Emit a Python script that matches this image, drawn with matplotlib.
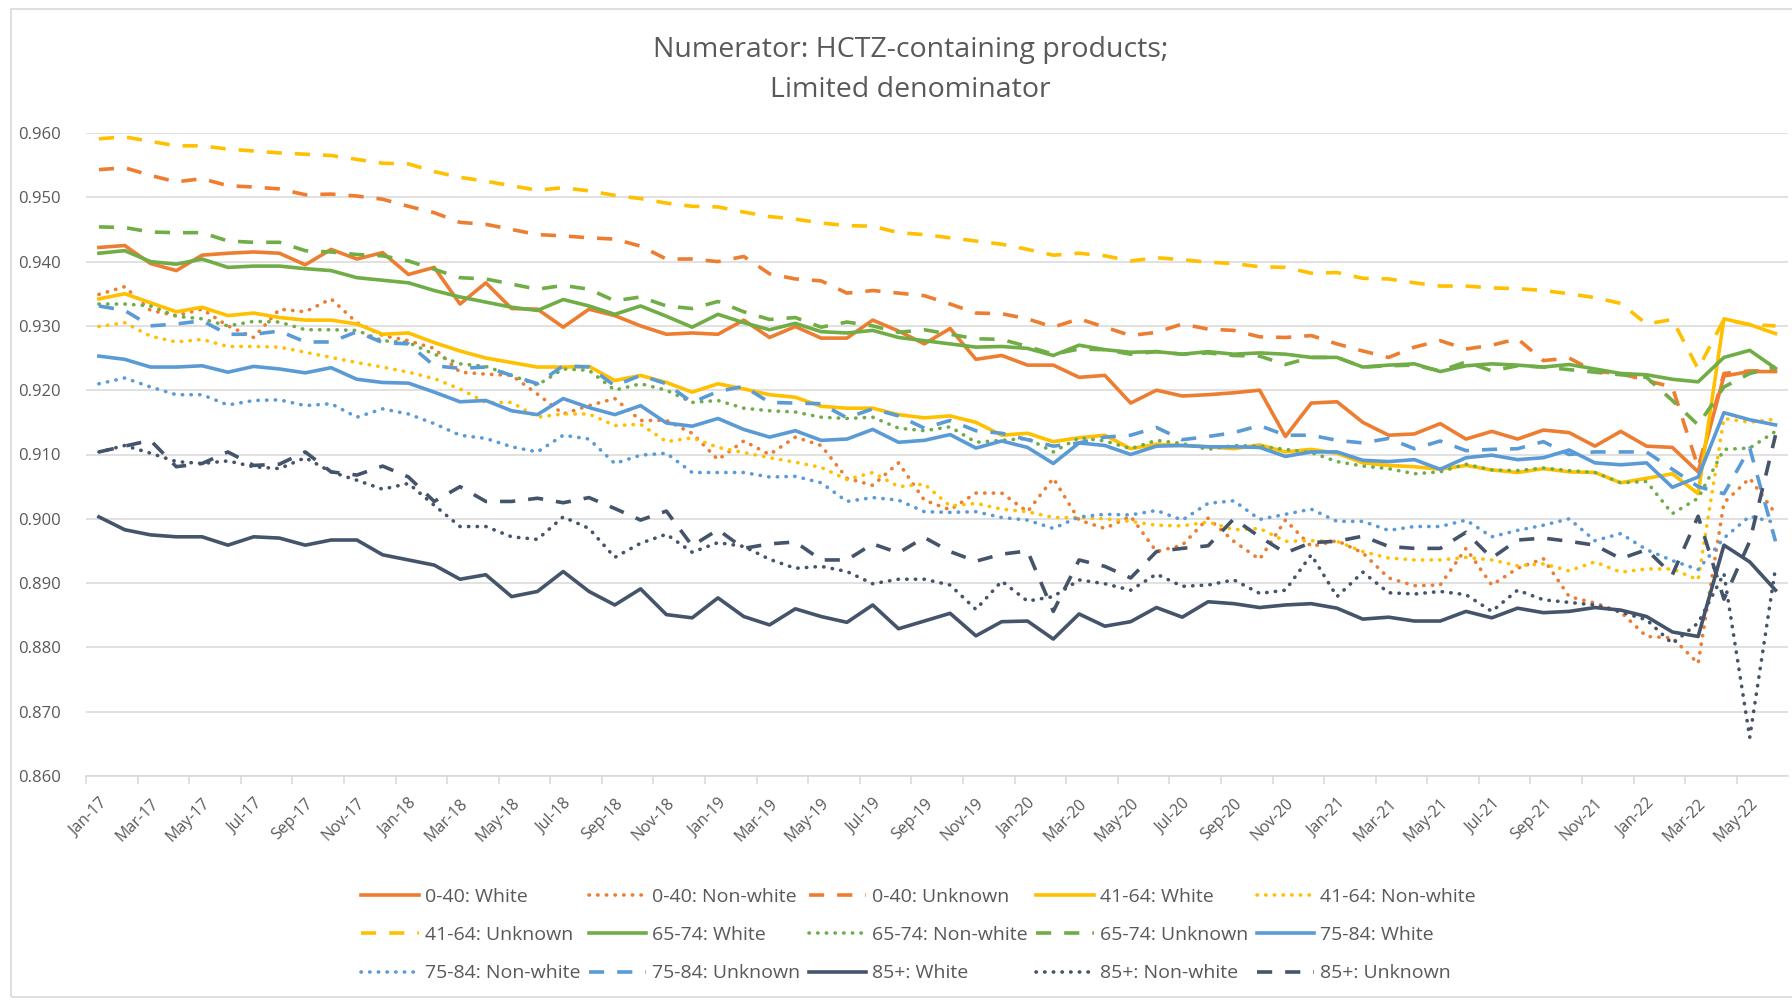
import matplotlib
matplotlib.use('Agg')
import matplotlib.pyplot as plt
from matplotlib.patches import Rectangle
import numpy as np

plt.rcParams['font.family'] = ['Open Sans', 'DejaVu Sans']

# categories: Jan-17 .. Jun-22
month_names = ["Jan", "Feb", "Mar", "Apr", "May", "Jun",
               "Jul", "Aug", "Sep", "Oct", "Nov", "Dec"]
months = [f"{m}-{y}" for y in range(17, 23) for m in month_names][:66]

# 0-40
w_0_40 = [0.9422, 0.9425, 0.9397, 0.9386, 0.9410, 0.9413, 0.9415, 0.9413, 0.9395, 0.9419, 0.9404, 0.9414,
          0.9380, 0.9391, 0.9334, 0.9367, 0.9327, 0.9326, 0.9298, 0.9326, 0.9316, 0.9300, 0.9287, 0.9289,
          0.9287, 0.9309, 0.9282, 0.9299, 0.9281, 0.9281, 0.9309, 0.9292, 0.9272, 0.9296, 0.9248, 0.9254,
          0.9239, 0.9239, 0.9220, 0.9223, 0.9180, 0.9200, 0.9191, 0.9193, 0.9196, 0.9200, 0.9128, 0.9180,
          0.9182, 0.9150, 0.9130, 0.9132, 0.9148, 0.9124, 0.9136, 0.9124, 0.9138, 0.9134, 0.9113, 0.9136,
          0.9113, 0.9111, 0.9073, 0.9222, 0.9229, 0.9229]
nw_0_40 = [0.9349, 0.9361, 0.9324, 0.9316, 0.9326, 0.9300, 0.9282, 0.9326, 0.9322, 0.9342, 0.9305, 0.9285,
           0.9277, 0.9265, 0.9228, 0.9225, 0.9223, 0.9194, 0.9163, 0.9176, 0.9187, 0.9153, 0.9153, 0.9133,
           0.9092, 0.9121, 0.9100, 0.9127, 0.9114, 0.9063, 0.9052, 0.9087, 0.9029, 0.9014, 0.9040, 0.9040,
           0.9011, 0.9063, 0.8998, 0.8985, 0.9004, 0.8949, 0.8959, 0.9001, 0.8965, 0.8937, 0.8998, 0.8957,
           0.8966, 0.8947, 0.8908, 0.8896, 0.8897, 0.8954, 0.8897, 0.8923, 0.8938, 0.8879, 0.8869, 0.8855,
           0.8817, 0.8815, 0.8775, 0.9025, 0.9063, 0.9008]
u_0_40 = [0.9543, 0.9546, 0.9534, 0.9524, 0.9529, 0.9518, 0.9516, 0.9513, 0.9504, 0.9505, 0.9502, 0.9497,
          0.9486, 0.9476, 0.9461, 0.9458, 0.9450, 0.9442, 0.9440, 0.9437, 0.9435, 0.9424, 0.9404, 0.9404,
          0.9400, 0.9408, 0.9381, 0.9373, 0.9370, 0.9351, 0.9355, 0.9351, 0.9347, 0.9334, 0.9320, 0.9319,
          0.9311, 0.9298, 0.9311, 0.9298, 0.9285, 0.9290, 0.9303, 0.9295, 0.9293, 0.9283, 0.9282, 0.9285,
          0.9272, 0.9261, 0.9251, 0.9267, 0.9277, 0.9264, 0.9270, 0.9280, 0.9246, 0.9250, 0.9229, 0.9226,
          0.9215, 0.9205, 0.9080, 0.9226, 0.9230, 0.9230]

# 41-64
w_41_64 = [0.9342, 0.9350, 0.9336, 0.9322, 0.9329, 0.9316, 0.9320, 0.9313, 0.9309, 0.9309, 0.9303, 0.9287,
           0.9289, 0.9274, 0.9261, 0.9250, 0.9243, 0.9236, 0.9236, 0.9237, 0.9215, 0.9223, 0.9212, 0.9197,
           0.9210, 0.9202, 0.9193, 0.9189, 0.9175, 0.9172, 0.9172, 0.9162, 0.9157, 0.9160, 0.9150, 0.9130,
           0.9133, 0.9120, 0.9126, 0.9130, 0.9109, 0.9116, 0.9114, 0.9112, 0.9109, 0.9115, 0.9104, 0.9108,
           0.9102, 0.9087, 0.9083, 0.9081, 0.9077, 0.9083, 0.9076, 0.9072, 0.9078, 0.9073, 0.9072, 0.9056,
           0.9063, 0.9070, 0.9039, 0.9311, 0.9302, 0.9288]
nw_41_64 = [0.9299, 0.9305, 0.9284, 0.9275, 0.9279, 0.9268, 0.9268, 0.9267, 0.9259, 0.9251, 0.9243, 0.9236,
            0.9228, 0.9218, 0.9202, 0.9181, 0.9181, 0.9158, 0.9163, 0.9163, 0.9145, 0.9147, 0.9120, 0.9126,
            0.9111, 0.9103, 0.9095, 0.9088, 0.9080, 0.9061, 0.9072, 0.9050, 0.9054, 0.9020, 0.9024, 0.9015,
            0.9011, 0.9002, 0.9002, 0.9000, 0.8996, 0.8990, 0.8989, 0.8995, 0.8983, 0.8985, 0.8965, 0.8966,
            0.8965, 0.8949, 0.8939, 0.8936, 0.8936, 0.8940, 0.8936, 0.8927, 0.8930, 0.8919, 0.8933, 0.8917,
            0.8922, 0.8922, 0.8905, 0.9156, 0.9150, 0.9155]
u_41_64 = [0.9591, 0.9594, 0.9587, 0.9580, 0.9580, 0.9575, 0.9572, 0.9569, 0.9567, 0.9565, 0.9559, 0.9553,
           0.9552, 0.9540, 0.9531, 0.9525, 0.9518, 0.9511, 0.9515, 0.9510, 0.9503, 0.9498, 0.9491, 0.9486,
           0.9485, 0.9477, 0.9470, 0.9466, 0.9460, 0.9456, 0.9455, 0.9445, 0.9442, 0.9437, 0.9432, 0.9427,
           0.9419, 0.9410, 0.9413, 0.9409, 0.9401, 0.9406, 0.9403, 0.9399, 0.9397, 0.9392, 0.9391, 0.9382,
           0.9383, 0.9374, 0.9373, 0.9367, 0.9362, 0.9362, 0.9359, 0.9358, 0.9355, 0.9350, 0.9344, 0.9335,
           0.9303, 0.9310, 0.9233, 0.9310, 0.9302, 0.9300]

# 65-74
w_65_74 = [0.9413, 0.9417, 0.9400, 0.9396, 0.9404, 0.9391, 0.9393, 0.9393, 0.9389, 0.9386, 0.9375, 0.9371,
           0.9367, 0.9355, 0.9345, 0.9337, 0.9329, 0.9324, 0.9341, 0.9331, 0.9318, 0.9331, 0.9315, 0.9298,
           0.9318, 0.9305, 0.9294, 0.9304, 0.9291, 0.9289, 0.9293, 0.9282, 0.9277, 0.9272, 0.9267, 0.9268,
           0.9265, 0.9254, 0.9270, 0.9263, 0.9259, 0.9260, 0.9256, 0.9260, 0.9256, 0.9258, 0.9256, 0.9251,
           0.9251, 0.9236, 0.9239, 0.9241, 0.9229, 0.9238, 0.9241, 0.9239, 0.9236, 0.9240, 0.9233, 0.9226,
           0.9224, 0.9217, 0.9213, 0.9251, 0.9262, 0.9234]
nw_65_74 = [0.9334, 0.9334, 0.9331, 0.9315, 0.9311, 0.9300, 0.9307, 0.9306, 0.9294, 0.9294, 0.9293, 0.9277,
            0.9274, 0.9256, 0.9241, 0.9237, 0.9223, 0.9208, 0.9233, 0.9231, 0.9200, 0.9210, 0.9200, 0.9181,
            0.9184, 0.9172, 0.9168, 0.9166, 0.9158, 0.9156, 0.9158, 0.9141, 0.9137, 0.9143, 0.9119, 0.9122,
            0.9125, 0.9104, 0.9126, 0.9121, 0.9109, 0.9122, 0.9117, 0.9108, 0.9114, 0.9113, 0.9108, 0.9103,
            0.9089, 0.9082, 0.9078, 0.9070, 0.9073, 0.9085, 0.9076, 0.9075, 0.9079, 0.9075, 0.9072, 0.9056,
            0.9058, 0.9008, 0.9032, 0.9108, 0.9110, 0.9136]
u_65_74 = [0.9454, 0.9453, 0.9446, 0.9445, 0.9445, 0.9432, 0.9430, 0.9430, 0.9417, 0.9415, 0.9411, 0.9409,
           0.9401, 0.9388, 0.9375, 0.9373, 0.9365, 0.9357, 0.9363, 0.9357, 0.9339, 0.9345, 0.9331, 0.9327,
           0.9338, 0.9322, 0.9310, 0.9313, 0.9298, 0.9306, 0.9300, 0.9290, 0.9294, 0.9287, 0.9280, 0.9279,
           0.9268, 0.9256, 0.9264, 0.9263, 0.9256, 0.9260, 0.9256, 0.9258, 0.9254, 0.9253, 0.9240, 0.9251,
           0.9251, 0.9236, 0.9238, 0.9239, 0.9230, 0.9244, 0.9230, 0.9238, 0.9236, 0.9232, 0.9228, 0.9224,
           0.9220, 0.9184, 0.9146, 0.9205, 0.9226, 0.9236]

# 75-84
w_75_84 = [0.9253, 0.9248, 0.9236, 0.9236, 0.9238, 0.9228, 0.9237, 0.9233, 0.9227, 0.9235, 0.9217, 0.9212,
           0.9211, 0.9197, 0.9182, 0.9184, 0.9168, 0.9162, 0.9187, 0.9173, 0.9162, 0.9176, 0.9149, 0.9144,
           0.9156, 0.9139, 0.9127, 0.9137, 0.9122, 0.9124, 0.9139, 0.9119, 0.9122, 0.9131, 0.9110, 0.9121,
           0.9111, 0.9086, 0.9118, 0.9114, 0.9100, 0.9113, 0.9114, 0.9112, 0.9112, 0.9111, 0.9097, 0.9104,
           0.9104, 0.9091, 0.9089, 0.9092, 0.9077, 0.9095, 0.9099, 0.9092, 0.9095, 0.9107, 0.9087, 0.9084,
           0.9087, 0.9049, 0.9065, 0.9165, 0.9154, 0.9146]
nw_75_84 = [0.9210, 0.9219, 0.9205, 0.9193, 0.9193, 0.9177, 0.9184, 0.9185, 0.9176, 0.9179, 0.9158, 0.9171,
            0.9163, 0.9148, 0.9130, 0.9125, 0.9112, 0.9104, 0.9130, 0.9124, 0.9086, 0.9099, 0.9102, 0.9072,
            0.9072, 0.9072, 0.9065, 0.9066, 0.9056, 0.9027, 0.9033, 0.9029, 0.9011, 0.9010, 0.9011, 0.9002,
            0.8998, 0.8985, 0.9003, 0.9007, 0.9006, 0.9013, 0.8998, 0.9024, 0.9028, 0.8999, 0.9007, 0.9015,
            0.8996, 0.8996, 0.8982, 0.8988, 0.8988, 0.8998, 0.8972, 0.8982, 0.8990, 0.9000, 0.8966, 0.8977,
            0.8952, 0.8935, 0.8921, 0.8970, 0.9004, 0.8994]
u_75_84 = [0.9331, 0.9324, 0.9300, 0.9303, 0.9308, 0.9287, 0.9287, 0.9292, 0.9275, 0.9275, 0.9291, 0.9274,
           0.9272, 0.9238, 0.9234, 0.9236, 0.9223, 0.9210, 0.9238, 0.9236, 0.9207, 0.9223, 0.9210, 0.9181,
           0.9198, 0.9206, 0.9181, 0.9180, 0.9179, 0.9157, 0.9171, 0.9160, 0.9141, 0.9153, 0.9137, 0.9133,
           0.9123, 0.9113, 0.9118, 0.9127, 0.9130, 0.9142, 0.9123, 0.9128, 0.9134, 0.9145, 0.9130, 0.9130,
           0.9122, 0.9118, 0.9125, 0.9109, 0.9121, 0.9106, 0.9108, 0.9109, 0.9120, 0.9100, 0.9104, 0.9104,
           0.9104, 0.9077, 0.9050, 0.9039, 0.9110, 0.8965]

# 85+
w_85 = [0.9003, 0.8983, 0.8975, 0.8972, 0.8972, 0.8959, 0.8972, 0.8970, 0.8959, 0.8967, 0.8967, 0.8944,
        0.8936, 0.8928, 0.8906, 0.8913, 0.8879, 0.8887, 0.8918, 0.8887, 0.8866, 0.8891, 0.8851, 0.8846,
        0.8877, 0.8848, 0.8835, 0.8860, 0.8848, 0.8839, 0.8866, 0.8829, 0.8841, 0.8853, 0.8818, 0.8840,
        0.8841, 0.8813, 0.8852, 0.8833, 0.8840, 0.8862, 0.8847, 0.8871, 0.8868, 0.8862, 0.8866, 0.8868,
        0.8861, 0.8844, 0.8847, 0.8841, 0.8841, 0.8856, 0.8846, 0.8861, 0.8854, 0.8856, 0.8862, 0.8858,
        0.8848, 0.8824, 0.8817, 0.8959, 0.8933, 0.8889]
nw_85 = [0.9104, 0.9114, 0.9102, 0.9089, 0.9086, 0.9090, 0.9081, 0.9078, 0.9095, 0.9073, 0.9060, 0.9046,
         0.9055, 0.9021, 0.8988, 0.8988, 0.8972, 0.8968, 0.9003, 0.8985, 0.8940, 0.8962, 0.8976, 0.8948,
         0.8963, 0.8957, 0.8937, 0.8923, 0.8926, 0.8918, 0.8899, 0.8906, 0.8906, 0.8897, 0.8859, 0.8903,
         0.8872, 0.8879, 0.8905, 0.8899, 0.8889, 0.8914, 0.8895, 0.8897, 0.8905, 0.8884, 0.8889, 0.8944,
         0.8879, 0.8917, 0.8885, 0.8883, 0.8887, 0.8882, 0.8856, 0.8889, 0.8874, 0.8870, 0.8866, 0.8855,
         0.8843, 0.8806, 0.8838, 0.8915, 0.8660, 0.8924]
u_85 = [0.9104, 0.9113, 0.9122, 0.9081, 0.9086, 0.9104, 0.9083, 0.9085, 0.9104, 0.9073, 0.9068, 0.9082,
        0.9065, 0.9027, 0.9050, 0.9027, 0.9027, 0.9032, 0.9025, 0.9033, 0.9016, 0.8998, 0.9012, 0.8958,
        0.8983, 0.8954, 0.8961, 0.8964, 0.8936, 0.8936, 0.8961, 0.8947, 0.8971, 0.8949, 0.8934, 0.8945,
        0.8950, 0.8856, 0.8936, 0.8926, 0.8908, 0.8949, 0.8954, 0.8958, 0.9000, 0.8972, 0.8947, 0.8963,
        0.8965, 0.8973, 0.8957, 0.8954, 0.8954, 0.8979, 0.8939, 0.8967, 0.8970, 0.8965, 0.8959, 0.8938,
        0.8952, 0.8913, 0.9004, 0.8875, 0.8965, 0.9130]

ORANGE, GOLD, GREEN, BLUE, SLATE = "#ED7D31", "#FFC000", "#70AD47", "#5B9BD5", "#44546A"
SOLID = "-"
DOT = (0, (0.1, 2.3))
DASH = (0, (4.2, 3.6))

series = [
    ("0-40: White", w_0_40, ORANGE, SOLID),
    ("0-40: Non-white", nw_0_40, ORANGE, DOT),
    ("0-40: Unknown", u_0_40, ORANGE, DASH),
    ("41-64: White", w_41_64, GOLD, SOLID),
    ("41-64: Non-white", nw_41_64, GOLD, DOT),
    ("41-64: Unknown", u_41_64, GOLD, DASH),
    ("65-74: White", w_65_74, GREEN, SOLID),
    ("65-74: Non-white", nw_65_74, GREEN, DOT),
    ("65-74: Unknown", u_65_74, GREEN, DASH),
    ("75-84: White", w_75_84, BLUE, SOLID),
    ("75-84: Non-white", nw_75_84, BLUE, DOT),
    ("75-84: Unknown", u_75_84, BLUE, DASH),
    ("85+: White", w_85, SLATE, SOLID),
    ("85+: Non-white", nw_85, SLATE, DOT),
    ("85+: Unknown", u_85, SLATE, DASH),
]

TXT = "#595959"
GRID = "#D9D9D9"

fig = plt.figure(figsize=(17.92, 10), dpi=100)
fig.patches.append(Rectangle((0.006, 0.003), 1.0, 0.988, transform=fig.transFigure,
                             fill=False, edgecolor=GRID, linewidth=1.2))
ax = fig.add_axes([0.048, 0.224, 0.950, 0.643])

x = np.arange(len(months))
handles = []
for label, vals, color, ls in series:
    cap = "round" if ls == DOT else "butt"
    h, = ax.plot(x, vals, color=color, linestyle=ls, linewidth=2.6,
                 dash_capstyle=cap, solid_joinstyle="round", label=label)
    handles.append(h)

ax.set_xlim(-0.5, len(months) - 0.5)
ax.set_ylim(0.860, 0.960)
ax.set_yticks(np.arange(0.860, 0.9601, 0.010))
ax.yaxis.set_major_formatter(matplotlib.ticker.FormatStrFormatter("%.3f"))
ax.grid(axis="y", color=GRID, linewidth=1.1)
ax.set_axisbelow(True)

ax.set_xticks(x[::2])
ax.set_xticklabels(months[::2], rotation=45, ha="right", rotation_mode="anchor")
ax.set_xticks(np.arange(-0.5, len(months) - 0.5, 2), minor=True)
ax.tick_params(axis="x", which="major", length=0, pad=14, labelsize=11.5, labelcolor=TXT)
ax.tick_params(axis="x", which="minor", length=6, color=GRID, width=1.1)
ax.tick_params(axis="y", length=0, pad=18, labelsize=12, labelcolor=TXT)

for s in ["top", "right", "left"]:
    ax.spines[s].set_visible(False)
ax.spines["bottom"].set_color(GRID)
ax.spines["bottom"].set_linewidth(1.1)

fig.text(0.508, 0.950, "Numerator: HCTZ-containing products;", ha="center", va="center",
         fontsize=20.5, color=TXT)
fig.text(0.508, 0.910, "Limited denominator", ha="center", va="center",
         fontsize=20.5, color=TXT)

# legend filled row by row like the original
order = [r * 5 + c for c in range(5) for r in range(3)]
leg = fig.legend([handles[i] for i in order], [series[i][0] for i in order],
                 ncol=5, loc="center", bbox_to_anchor=(0.5125, 0.065),
                 frameon=False, fontsize=14, handlelength=2.95, handletextpad=0.3,
                 columnspacing=0.45, labelspacing=1.05)
for t in leg.get_texts():
    t.set_color(TXT)

fig.savefig("out.png", dpi=100)
